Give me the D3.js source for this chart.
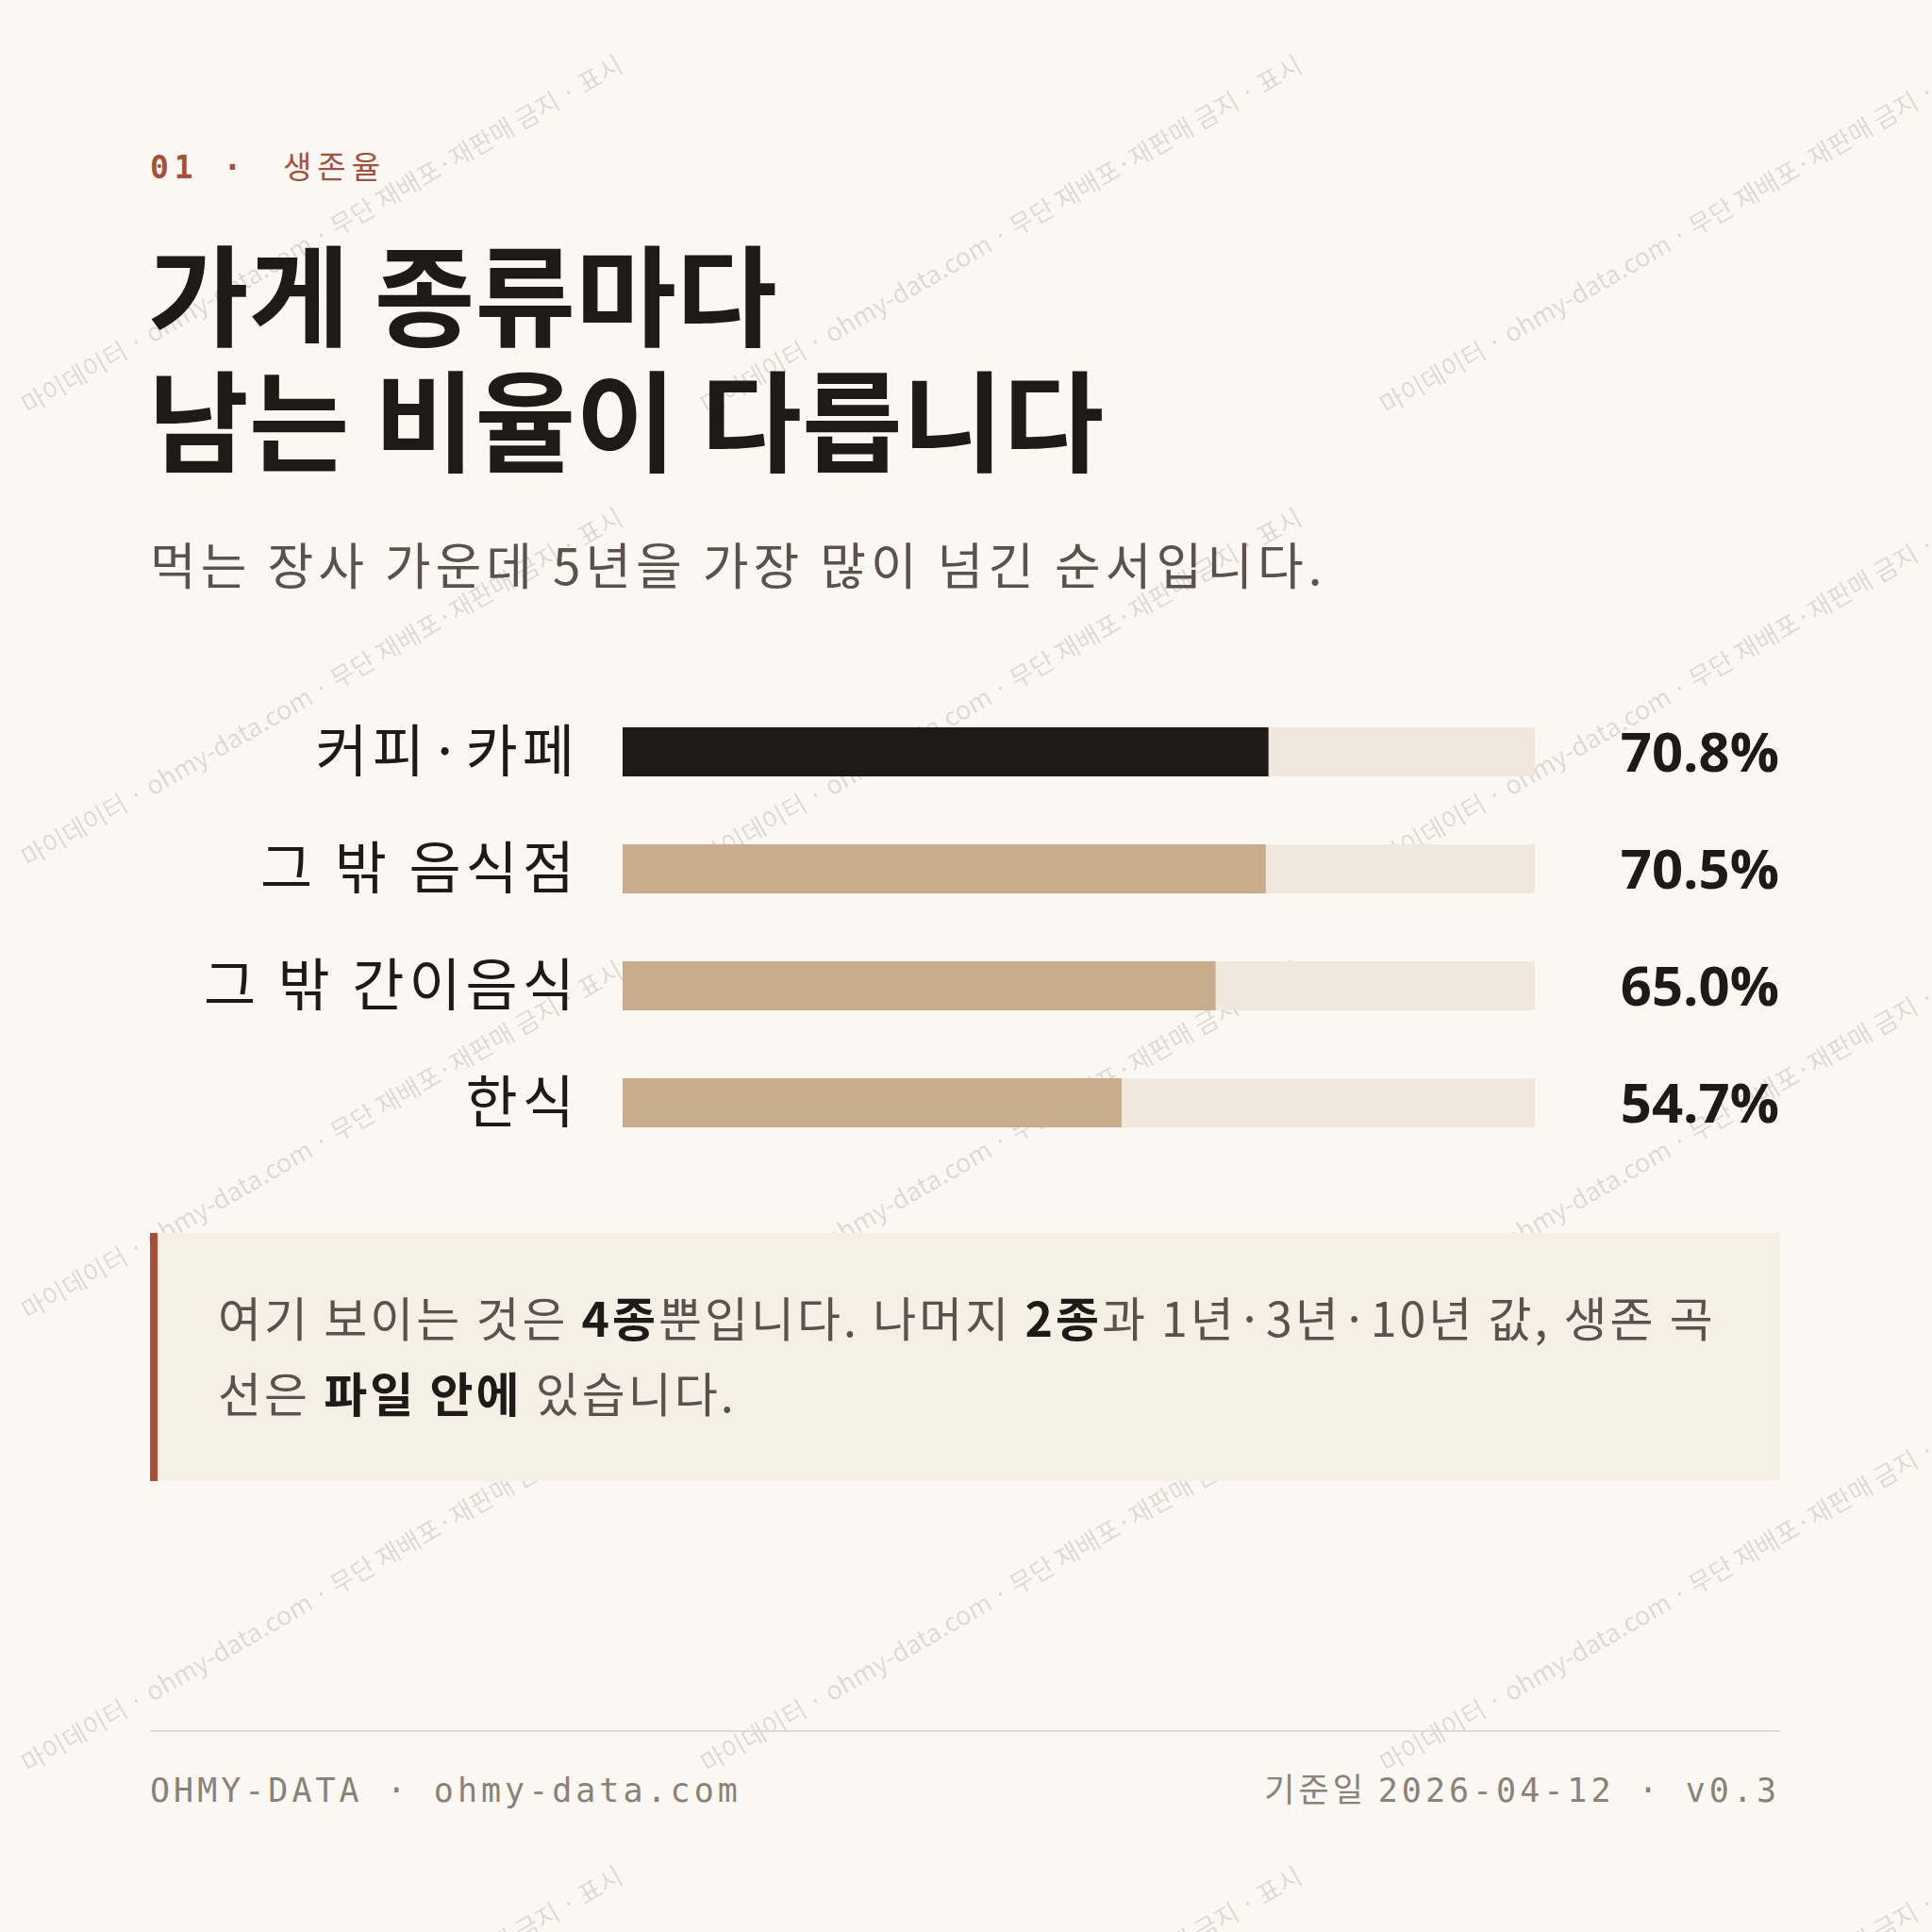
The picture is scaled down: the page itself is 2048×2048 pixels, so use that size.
<!DOCTYPE html>
<html><head><meta charset="utf-8">
<script src="https://cdn.jsdelivr.net/npm/d3@7"></script>
<style>body{margin:0;background:#fbf8f3}</style>
</head><body>
<svg id="c" width="2048" height="2048"></svg>
<script>
const categories = ["커피·카페","그 밖 음식점","그 밖 간이음식","한식"];
const values = [70.8,70.5,65.0,54.7];
const highlight = [true,false,false,false];

const svg = d3.select("#c");
const sans = "'Noto Sans CJK KR','Noto Sans',sans-serif";
const mono = "'DejaVu Sans Mono','Liberation Mono',monospace";
svg.append("rect").attr("width",2048).attr("height",2048).attr("fill","#fbf8f3");

const wm = svg.append("g").attr("fill","#000").attr("fill-opacity",0.13).attr("font-family",sans).attr("font-size",27);
const wtext = "마이데이터 · ohmy-data.com · 무단 재배포·재판매 금지 · 표시";
for(let r=-2;r<8;r++){for(let c=-2;c<5;c++){
  const x = c*720 + 30, y = r*480 + 440;
  wm.append("text").attr("transform",`translate(${x},${y}) rotate(-30)`).text(wtext);
}}

svg.append("text").attr("x",159).attr("y",189).attr("font-family",mono).attr("font-weight","bold").attr("font-size",33).attr("fill","#a84f38").attr("letter-spacing",6).text("01 · ");
svg.append("text").attr("x",300).attr("y",189).attr("font-family",sans).attr("font-size",33).attr("fill","#a84f38").attr("letter-spacing",6).text("생존율");

["가게 종류마다","남는 비율이 다릅니다"].forEach((t,i)=>
  svg.append("text").attr("x",157).attr("y",358+i*133).attr("font-family",sans).attr("font-weight",700).attr("font-size",116).attr("fill","#1e1a17").text(t));
svg.append("text").attr("x",159).attr("y",620).attr("font-family",sans).attr("font-size",53).attr("fill","#5a524b").attr("letter-spacing",5).text("먹는 장사 가운데 5년을 가장 많이 넘긴 순서입니다.");

const x = d3.scaleLinear().domain([0,100]).range([660,1627]);
const y = d3.scaleBand().domain(categories).range([735,1231]).paddingInner(0.58).paddingOuter(0.29);
const g = svg.append("g");
g.selectAll(".t").data(categories).join("rect").attr("x",x(0)).attr("width",x(100)-x(0)).attr("y",d=>y(d)).attr("height",y.bandwidth()).attr("fill","#f0e8dc");
g.selectAll(".b").data(values).join("rect").attr("x",x(0)).attr("width",d=>x(d)-x(0)).attr("y",(d,i)=>y(categories[i])).attr("height",y.bandwidth()).attr("fill",(d,i)=>highlight[i]?"#1e1a17":"#c8ad8c");
g.selectAll(".l").data(categories).join("text").attr("x",614).attr("y",d=>y(d)+y.bandwidth()/2).attr("dy","0.35em").attr("text-anchor","end").attr("font-family",sans).attr("font-size",60).attr("letter-spacing",5).attr("fill","#1e1a17").text(d=>d);
g.selectAll(".v").data(values).join("text").attr("x",1886).attr("y",(d,i)=>y(categories[i])+y.bandwidth()/2).attr("dy","0.36em").attr("text-anchor","end").attr("font-family","'Open Sans','Noto Sans',sans-serif").attr("font-weight",700).attr("font-size",58).attr("fill","#1e1a17").text(d=>d.toFixed(1)+"%");

svg.append("rect").attr("x",159).attr("y",1307).attr("width",1728).attr("height",263).attr("fill","#f6efe5");
svg.append("rect").attr("x",159).attr("y",1307).attr("width",8).attr("height",263).attr("fill","#a84f38");
const note = [[["여기 보이는 것은 ",0],["4종",1],["뿐입니다. 나머지 ",0],["2종",1],["과 1년·3년·10년 값, 생존 곡",0]],
              [["선은 ",0],["파일 안에",1],[" 있습니다.",0]]];
note.forEach((ln,i)=>{
  const t = svg.append("text").attr("x",231).attr("y",1417+i*80).attr("font-family",sans).attr("font-size",50).attr("letter-spacing",3).attr("fill","#5a524b");
  ln.forEach(([s,b])=>t.append("tspan").attr("font-weight",b?700:400).attr("fill",b?"#1e1a17":"#5a524b").text(s));
});

svg.append("line").attr("x1",159).attr("x2",1887).attr("y1",1835).attr("y2",1835).attr("stroke","#e2dad0").attr("stroke-width",2);
svg.append("text").attr("x",159).attr("y",1910).attr("font-family",mono).attr("font-size",35).attr("fill","#8a8178").attr("letter-spacing",4).text("OHMY-DATA · ohmy-data.com");
const ft = svg.append("text").attr("x",1887).attr("y",1910).attr("text-anchor","end").attr("font-family",mono).attr("font-size",35).attr("fill","#8a8178").attr("letter-spacing",4);
ft.append("tspan").attr("font-family",sans).text("기준일  ");
ft.append("tspan").text("2026-04-12 · v0.3");
</script>
</body></html>
